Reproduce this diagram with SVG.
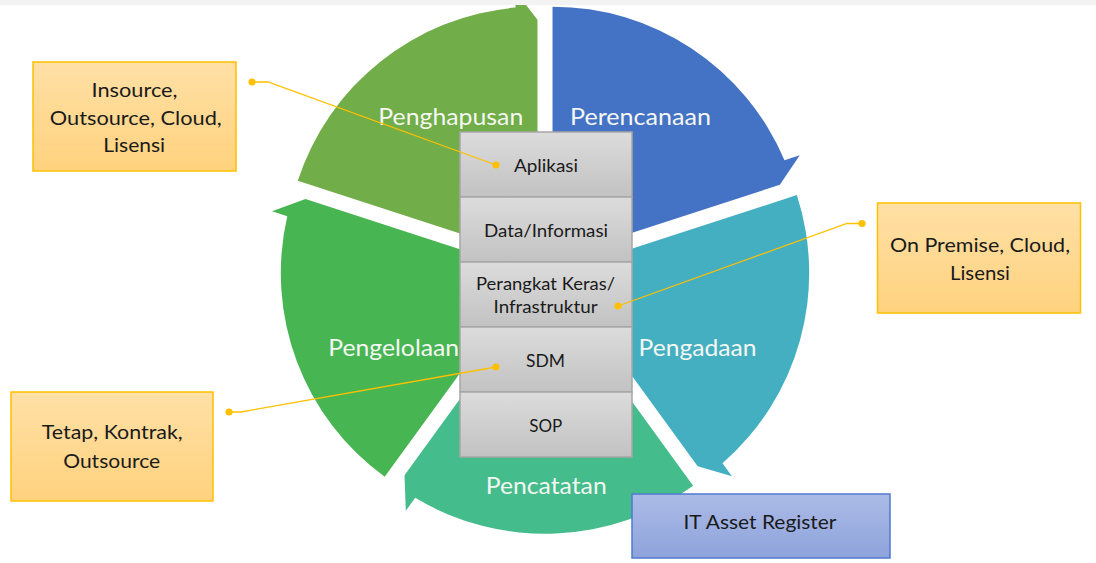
<svg xmlns="http://www.w3.org/2000/svg" width="1096" height="563" viewBox="0 0 1096 563">
<style>
.lbl{font-family:Lato,"Liberation Sans",sans-serif;font-size:24px;fill:#F4F7F2;text-anchor:middle}
.bx{font-family:Lato,"Liberation Sans",sans-serif;font-size:18px;fill:#1A1A1A;text-anchor:middle}
.cl{font-family:Lato,"Liberation Sans",sans-serif;font-size:20px;fill:#1A1A1A;text-anchor:middle}
.row{fill:url(#gGray);stroke:#A6A6A6;stroke-width:1.5}
.call{fill:url(#gOr);stroke:#FFC000;stroke-width:1.5}
.ln{fill:none;stroke:#FFC000;stroke-width:1.3}
.dot{fill:#FFC000}
</style>
<defs>
<linearGradient id="gGray" x1="0" y1="0" x2="0" y2="1"><stop offset="0" stop-color="#DCDCDC"/><stop offset="1" stop-color="#C2C2C2"/></linearGradient>
<linearGradient id="gOr" x1="0" y1="0" x2="0" y2="1"><stop offset="0" stop-color="#FFE0A6"/><stop offset="1" stop-color="#FFD27E"/></linearGradient>
<linearGradient id="gBl" x1="0" y1="0" x2="0" y2="1"><stop offset="0" stop-color="#ACBBE7"/><stop offset="1" stop-color="#8EA3DB"/></linearGradient>
</defs>
<rect width="1096" height="563" fill="#FFFFFF"/>
<g id="perencanaan">
<path d="M552.52,258.64 L552.52,6.64 A252,252 0 0 1 784.49,160.18 L799.75,155.22 L779.83,184.79 Z" fill="#4472C4"/>
<text class="lbl" x="640.5" y="125" textLength="141" lengthAdjust="spacingAndGlyphs">Perencanaan</text>
</g>
<g id="pengadaan">
<path d="M557.17,272.96 L796.85,195.09 A252,252 0 0 1 722.51,463.14 L731.93,476.13 L697.65,466.31 Z" fill="#45AFC2"/>
<text class="lbl" x="697.5" y="356" textLength="118" lengthAdjust="spacingAndGlyphs">Pengadaan</text>
</g>
<g id="pencatatan">
<path d="M545,281.8 L693.13,485.67 A252,252 0 0 1 415.22,497.81 L405.77,510.81 L404.52,475.15 Z" fill="#45BC8C"/>
<text class="lbl" x="546.2" y="494" textLength="121" lengthAdjust="spacingAndGlyphs">Pencatatan</text>
</g>
<g id="pengelolaan">
<path d="M532.83,272.96 L384.70,476.83 A252,252 0 0 1 287.28,216.26 L272.01,211.32 L305.52,199.11 Z" fill="#48B553"/>
<text class="lbl" x="393.7" y="355.7" textLength="131" lengthAdjust="spacingAndGlyphs">Pengelolaan</text>
</g>
<g id="penghapusan">
<path d="M537.48,258.64 L297.80,180.77 A252,252 0 0 1 515.52,7.60 L515.52,-8.45 L537.48,19.64 Z" fill="#71AD48"/>
<text class="lbl" x="450.8" y="125" textLength="145" lengthAdjust="spacingAndGlyphs">Penghapusan</text>
</g>
<g id="layers">
<rect class="row" x="460" y="132" width="172" height="65"/>
<rect class="row" x="460" y="197" width="172" height="65"/>
<rect class="row" x="460" y="262" width="172" height="65"/>
<rect class="row" x="460" y="327" width="172" height="65"/>
<rect class="row" x="460" y="392" width="172" height="65"/>
<text class="bx" x="546" y="171.5" textLength="64" lengthAdjust="spacingAndGlyphs">Aplikasi</text>
<text class="bx" x="546" y="237" textLength="124" lengthAdjust="spacingAndGlyphs">Data/Informasi</text>
<text class="bx" x="545.5" y="290" textLength="139" lengthAdjust="spacingAndGlyphs">Perangkat Keras/</text>
<text class="bx" x="545.5" y="313" textLength="104" lengthAdjust="spacingAndGlyphs">Infrastruktur</text>
<text class="bx" x="545.5" y="366.5" textLength="39" lengthAdjust="spacingAndGlyphs">SDM</text>
<text class="bx" x="545.7" y="431.5" textLength="33" lengthAdjust="spacingAndGlyphs">SOP</text>
</g>
<g id="connectors">
<polyline class="ln" points="252,82 268,82 496,165"/>
<circle class="dot" cx="252" cy="82" r="3.6"/>
<circle class="dot" cx="496" cy="165" r="3.6"/>
<polyline class="ln" points="618,306 847,223.5 862,223.5"/>
<circle class="dot" cx="618" cy="306" r="3.6"/>
<circle class="dot" cx="862" cy="223.5" r="3.6"/>
<polyline class="ln" points="229,412 241,412 496,367"/>
<circle class="dot" cx="229" cy="412" r="3.6"/>
<circle class="dot" cx="496" cy="367" r="3.6"/>
</g>
<g id="callout-aplikasi">
<rect class="call" x="33" y="62" width="203" height="109"/>
<text class="cl" x="134.5" y="96.7" textLength="86" lengthAdjust="spacingAndGlyphs">Insource,</text>
<text class="cl" x="135.8" y="125" textLength="172" lengthAdjust="spacingAndGlyphs">Outsource, Cloud,</text>
<text class="cl" x="134.2" y="151.7" textLength="62" lengthAdjust="spacingAndGlyphs">Lisensi</text>
</g>
<g id="callout-sdm">
<rect class="call" x="11" y="392" width="202" height="109"/>
<text class="cl" x="112.2" y="439.3" textLength="141" lengthAdjust="spacingAndGlyphs">Tetap, Kontrak,</text>
<text class="cl" x="111.7" y="468.3" textLength="97" lengthAdjust="spacingAndGlyphs">Outsource</text>
</g>
<g id="callout-infra">
<rect class="call" x="877.5" y="203" width="203" height="110"/>
<text class="cl" x="980" y="251.7" textLength="180" lengthAdjust="spacingAndGlyphs">On Premise, Cloud,</text>
<text class="cl" x="980" y="280" textLength="60" lengthAdjust="spacingAndGlyphs">Lisensi</text>
</g>
<g id="it-asset-register">
<rect x="632" y="494" width="258" height="64" fill="url(#gBl)" stroke="#4F79CF" stroke-width="1.5"/>
<text class="cl" x="760" y="529.3" textLength="153" lengthAdjust="spacingAndGlyphs">IT Asset Register</text>
</g>
<rect x="0" y="0" width="1096" height="5" fill="#F3F3F3"/>
</svg>
